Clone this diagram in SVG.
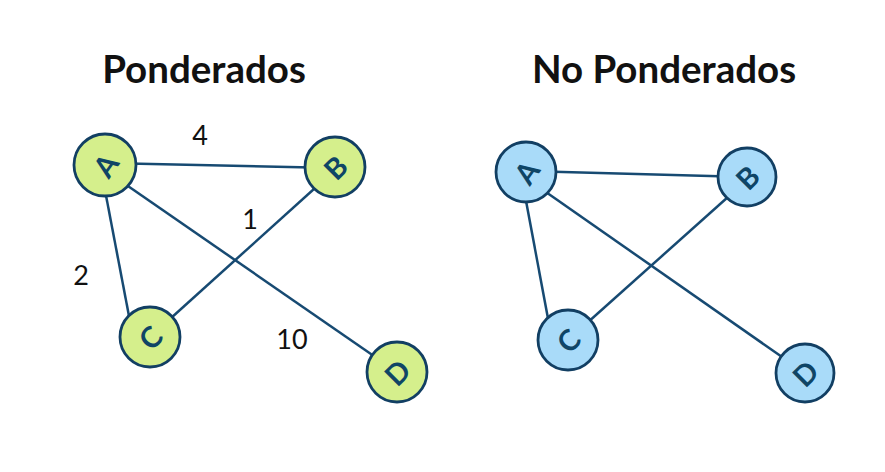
<svg xmlns="http://www.w3.org/2000/svg" width="885" height="472" viewBox="0 0 885 472">
<style>
.title{font-family:Lato,"Liberation Sans",sans-serif;font-weight:bold;font-size:38.5px;fill:#111;text-anchor:middle}
.w{font-family:Lato,"Liberation Sans",sans-serif;font-size:27px;fill:#111;text-anchor:middle}
.edge{stroke:#174a72;stroke-width:2.5;fill:none}
.g{fill:#d5ef8c;stroke:#123f63;stroke-width:2.8}
.b{fill:#a9dbf9;stroke:#123f63;stroke-width:2.8}
.lbl{font-family:Lato,"Liberation Sans",sans-serif;font-weight:bold;font-size:29px;fill:#0f4566;text-anchor:middle;dominant-baseline:central}
</style>
<rect width="885" height="472" fill="#fff"/>
<text class="title" x="204" y="83">Ponderados</text>
<text class="title" x="664" y="83">No Ponderados</text>
<g id="connectors">
<line class="edge" x1="105" y1="163" x2="335" y2="168"/>
<line class="edge" x1="104" y1="185" x2="133" y2="337"/>
<line class="edge" x1="112" y1="175" x2="397" y2="372"/>
<line class="edge" x1="335" y1="170" x2="150" y2="337"/>
<line class="edge" x1="526" y1="171" x2="747" y2="177"/>
<line class="edge" x1="524" y1="190" x2="552" y2="340"/>
<line class="edge" x1="533" y1="183" x2="805" y2="373"/>
<line class="edge" x1="747" y1="180" x2="568" y2="340"/>
</g>
<g id="weights">
<text class="w" x="200" y="145">4</text>
<text class="w" x="250" y="229">1</text>
<text class="w" x="81" y="285">2</text>
<text class="w" x="292" y="349">10</text>
</g>
<g id="wA"><circle class="g" cx="105" cy="165" r="31"/><text class="lbl" transform="translate(105 165) rotate(-55)">A</text></g>
<g id="wB"><circle class="g" cx="335" cy="167" r="30"/><text class="lbl" transform="translate(335 167) rotate(-45)">B</text></g>
<g id="wC"><circle class="g" cx="150" cy="337" r="30"/><text class="lbl" transform="translate(150 337) rotate(-45)">C</text></g>
<g id="wD"><circle class="g" cx="397" cy="372" r="30"/><text class="lbl" transform="translate(397 372) rotate(-45)">D</text></g>
<g id="uA"><circle class="b" cx="526" cy="172" r="30"/><text class="lbl" transform="translate(526 172) rotate(-55)">A</text></g>
<g id="uB"><circle class="b" cx="747" cy="177" r="29"/><text class="lbl" transform="translate(747 177) rotate(-45)">B</text></g>
<g id="uC"><circle class="b" cx="568" cy="340" r="30"/><text class="lbl" transform="translate(568 340) rotate(-45)">C</text></g>
<g id="uD"><circle class="b" cx="805" cy="373" r="29"/><text class="lbl" transform="translate(805 373) rotate(-45)">D</text></g>
</svg>
